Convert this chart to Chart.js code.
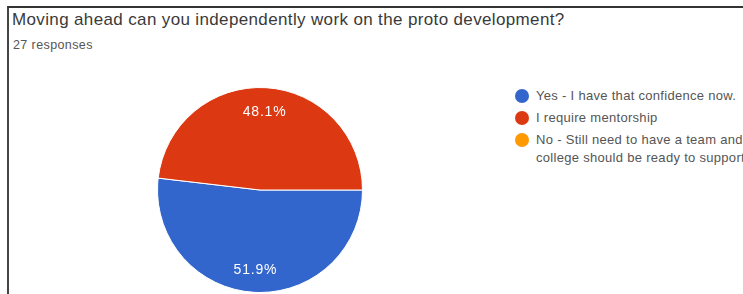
<!DOCTYPE html>
<html><head><meta charset="utf-8">
<script src="https://cdn.jsdelivr.net/npm/chart.js@4/dist/chart.umd.min.js"></script>
<style>
html,body{margin:0;padding:0;background:#fff;width:743px;height:294px;overflow:hidden;font-family:"Liberation Sans",Arial,sans-serif;}
#frame{position:absolute;left:7px;top:6px;right:-10px;bottom:-10px;border-top:2px solid #333;border-left:2px solid #444;}
#title{position:absolute;left:12px;top:10px;font-size:17px;line-height:20px;color:#3a3a3a;white-space:nowrap;letter-spacing:0.36px;}
#sub{position:absolute;left:13px;top:37px;font-size:12.5px;line-height:16px;color:#555;white-space:nowrap;letter-spacing:0.4px;}
#wrap{position:absolute;left:150px;top:80px;width:220px;height:220px;}
#legend{position:absolute;left:515px;top:87px;width:260px;font-size:13px;color:#555;letter-spacing:0.3px;}
.li{position:relative;padding-left:21px;margin-bottom:4px;line-height:18px;white-space:nowrap;}
.dot{position:absolute;left:0px;top:2px;width:14px;height:14px;border-radius:50%;}
</style></head><body>
<div id="frame"></div>
<div id="title">Moving ahead can you independently work on the proto development?</div>
<div id="sub">27 responses</div>
<div id="wrap"><canvas id="c"></canvas></div>
<div id="legend"></div>
<script>
const categories = ["Yes - I have that confidence now.", "I require mentorship", "No - Still need to have a team and\ncollege should be ready to support"];
const counts = [14, 13, 0];
const colors = ["#3366cc", "#dc3912", "#ff9900"];
const total = counts.reduce((a,b)=>a+b,0);

const lg = document.getElementById('legend');
categories.forEach((c,i)=>{
  const d=document.createElement('div'); d.className='li';
  d.innerHTML='<span class="dot" style="background:'+colors[i]+'"></span>'+c.replace('\n','<br>');
  lg.appendChild(d);
});

const pctPlugin = {
  id:'pct',
  afterDatasetsDraw(chart){
    const ctx=chart.ctx; const meta=chart.getDatasetMeta(0);
    ctx.save(); ctx.fillStyle='#fff'; ctx.font='14px "Liberation Sans", Arial, sans-serif';
    try{ctx.letterSpacing='0.8px';}catch(e){}
    ctx.textAlign='center'; ctx.textBaseline='middle';
    meta.data.forEach((arc,i)=>{
      const v=counts[i]; if(!v) return;
      const mid=(arc.startAngle+arc.endAngle)/2;
      const r=arc.outerRadius*0.77;
      ctx.fillText((v/total*100).toFixed(1)+'%', arc.x+Math.cos(mid)*r, arc.y+Math.sin(mid)*r+1);
    });
    ctx.restore();
  }
};

new Chart(document.getElementById('c'),{
  type:'pie',
  data:{labels:categories,datasets:[{data:counts,backgroundColor:colors,borderColor:'#fff',borderWidth:1}]},
  options:{responsive:true,maintainAspectRatio:false,animation:false,rotation:90,
    layout:{padding:7},
    plugins:{legend:{display:false},tooltip:{enabled:false}}},
  plugins:[pctPlugin]
});
</script>
</body></html>
